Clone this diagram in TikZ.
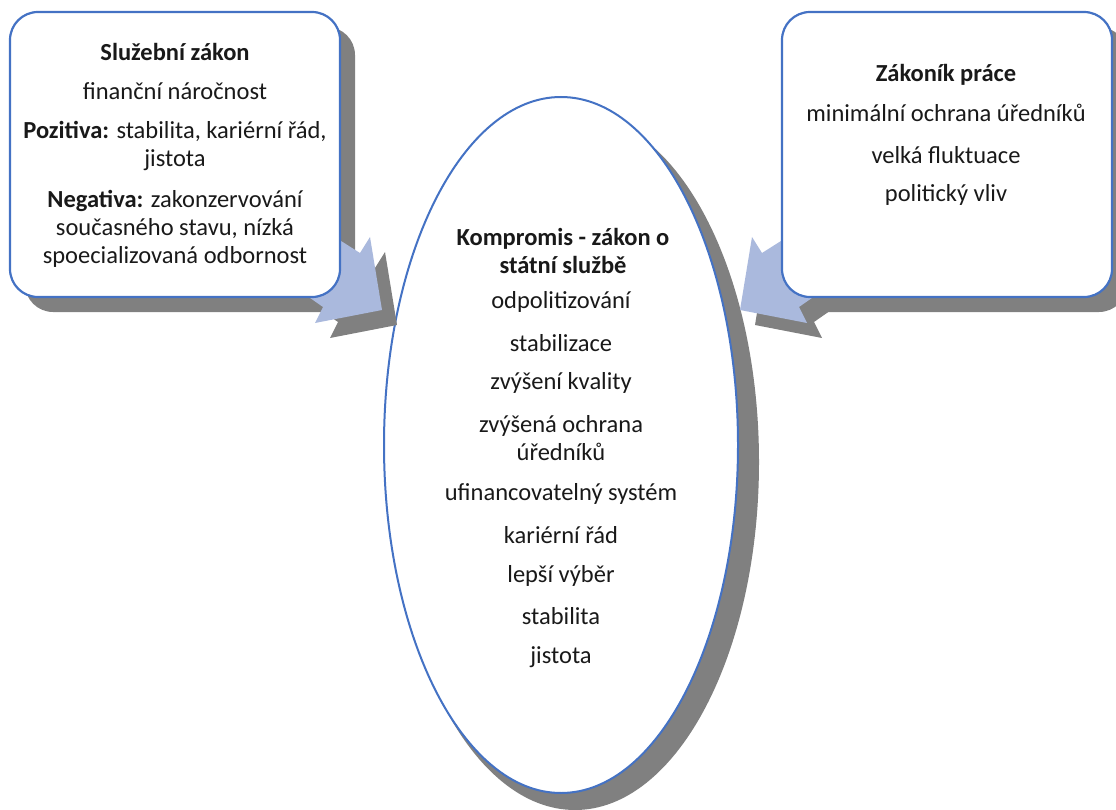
\documentclass[tikz,border=0pt]{standalone}
\usepackage{fontspec}
\setmainfont{Carlito}
\definecolor{bord}{RGB}{68,114,196}
\definecolor{arrowfill}{RGB}{170,185,221}
\definecolor{shad}{RGB}{128,128,128}
\definecolor{txtc}{RGB}{25,25,25}
\begin{document}
\begin{tikzpicture}[x=1pt,y=-1pt,
  txt/.style={font=\fontsize{24.5}{28}\selectfont, text=txtc, align=center, inner sep=0pt},
  hd/.style={font=\fontsize{24.5}{28}\selectfont\bfseries, text=txtc, align=center, inner sep=0pt},
  boxstyle/.style={draw=bord, line width=2.2pt, fill=white, rounded corners=28pt},
  boxshadow/.style={fill=shad, rounded corners=28pt},
  arrowstyle/.style={fill=arrowfill},
  arrowshadow/.style={fill=shad}]
\useasboundingbox (0,0) rectangle (1116,810);

% ellipse
\fill[shad] (575,462) ellipse [x radius=184, y radius=348];
\draw[draw=bord, line width=2pt, fill=white] (561,445) ellipse [x radius=177, y radius=348];

% box shadows
\fill[boxshadow] (25,27) rectangle (355,312);
\fill[boxshadow] (797,27) rectangle (1127,312);

% arrow shadows
\fill[arrowshadow, shift={(15,15)}] (382,310) -- (370,237) -- (360,253) -- (300,215) -- (270,270) -- (323,307) -- (315,323) -- cycle;
\fill[arrowshadow, shift={(15,15)}] (740,310) -- (752,237) -- (762,253) -- (822,215) -- (852,270) -- (799,307) -- (807,323) -- cycle;

% arrows
\fill[arrowstyle] (382,310) -- (370,237) -- (360,253) -- (300,215) -- (270,270) -- (323,307) -- (315,323) -- cycle;
\fill[arrowstyle] (740,310) -- (752,237) -- (762,253) -- (822,215) -- (852,270) -- (799,307) -- (807,323) -- cycle;

% boxes
\draw[boxstyle] (10,12) rectangle (340,297);
\draw[boxstyle] (782,12) rectangle (1112,297);

% left box text
\node[hd] (lt) at (175,52) {Služební zákon};
\node[txt] (l1) at (175,91) {finanční náročnost};
\node[txt] (l2) at (175,146) {\textbf{Pozitiva:} stabilita, kariérní řád,\\jistota};
\node[txt] (l3) at (175,229) {\textbf{Negativa:} zakonzervování\\současného stavu, nízká\\spoecializovaná odbornost};

% right box text
\node[hd] (rt) at (946,75) {Zákoník práce};
\node[txt] (r1) at (946,113) {minimální ochrana úředníků};
\node[txt] (r2) at (946,155) {velká fluktuace};
\node[txt] (r3) at (946,195) {politický vliv};

% ellipse text
\node[hd] (et) at (563,251) {Kompromis - zákon o\\státní službě};
\node[txt] (e1) at (561,302) {odpolitizování};
\node[txt] (e2) at (561,343) {stabilizace};
\node[txt] (e3) at (561,383) {zvýšení kvality};
\node[txt] (e4) at (561,438) {zvýšená ochrana\\úředníků};
\node[txt] (e5) at (561,494) {ufinancovatelný systém};
\node[txt] (e6) at (561,535) {kariérní řád};
\node[txt] (e7) at (561,576) {lepší výběr};
\node[txt] (e8) at (561,616) {stabilita};
\node[txt] (e9) at (561,657) {jistota};
\end{tikzpicture}
\end{document}
